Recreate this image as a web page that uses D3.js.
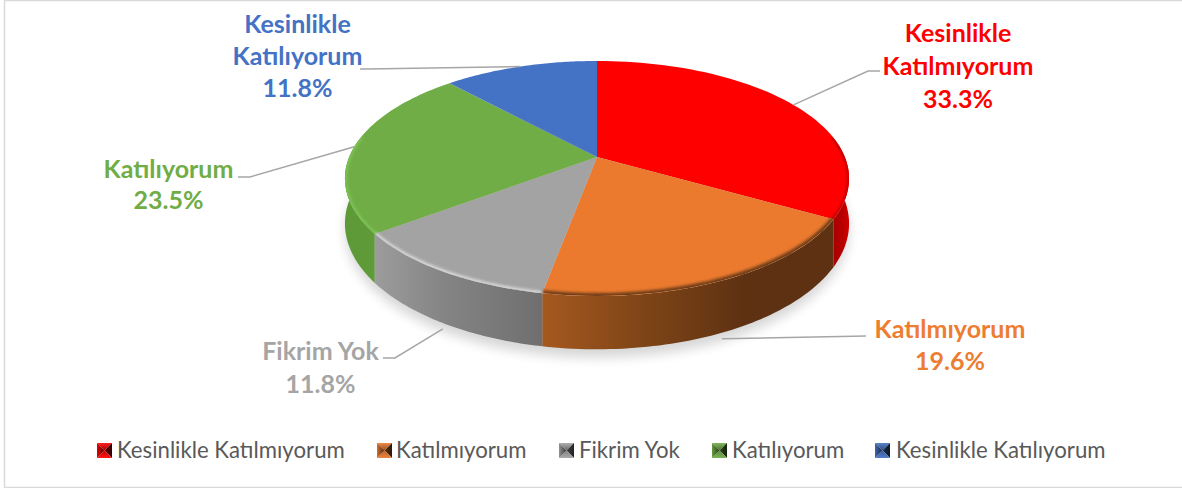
<!DOCTYPE html>
<html><head><meta charset="utf-8">
<script src="https://cdnjs.cloudflare.com/ajax/libs/d3/7.8.5/d3.min.js"></script>
<style>html,body{margin:0;padding:0;background:#fff}svg{display:block}text{font-family:Lato,"Open Sans",sans-serif}</style>
</head><body><svg id="c" width="1182" height="488"></svg>
<script>
const categories=["Kesinlikle Katılmıyorum","Katılmıyorum","Fikrim Yok","Katılıyorum","Kesinlikle Katılıyorum"];
const values=[33.3,19.6,11.8,23.5,11.8];
const colors=["#ff0000","#eb7a2f","#a3a3a3","#70ad47","#4472c4"];
const labelColors=["#ff0000","#ed7d31","#a5a5a5","#70ad47","#4472c4"];
const labelLines=[["Kesinlikle","Katılmıyorum"],["Katılmıyorum"],["Fikrim Yok"],["Katılıyorum"],["Kesinlikle","Katılıyorum"]];
const wallStops=[
 [["#a80000",0],["#b40000",.5],["#d20000",1]],
 [["#a5591f",0],["#7e4417",.35],["#5e3112",.7],["#5e3112",1]],
 [["#9c9c9c",0],["#858585",.4],["#6f6f6f",1]],
 [["#5d9a37",0],["#5f9c39",1]],
 [["#3a62a8",0],["#3a62a8",1]]];

const svg=d3.select("#c");
const defs=svg.append("defs");
const cx=597,cy=157,X=247.8,Y=113.6,K=.183,D=43.5;
const proj=(a,z=0)=>{const u=Math.sin(a),v=-Math.cos(a),w=1-K*v;return [cx+X*u/w,cy+(Y*v+z)/w];};
const pie=d3.pie().sort(null).value(d=>d)(values);
const line=d3.line();
const sample=(a0,a1,z)=>d3.range(0,61).map(i=>proj(a0+(a1-a0)*i/60,z));

// frame
svg.append("rect").attr("x",4.5).attr("y",.5).attr("width",1200).attr("height",487).attr("fill","#fff").attr("stroke","#d9d9d9").attr("stroke-width",1.5);

defs.append("filter").attr("id","sh").attr("x","-20%").attr("y","-30%").attr("width","140%").attr("height","160%").append("feGaussianBlur").attr("stdDeviation",6);
defs.append("filter").attr("id","bv").attr("x","-10%").attr("y","-30%").attr("width","120%").attr("height","160%").append("feGaussianBlur").attr("stdDeviation",1.6);

// shadow
svg.append("path").attr("d",line(sample(0,2*Math.PI,D+7))+"Z").attr("fill","#000").attr("opacity",.16).attr("filter","url(#sh)");

// walls
const wallMin=79.5*Math.PI/180,wallMax=280.5*Math.PI/180;
const wallOrder=[0,3,1,2];
wallOrder.forEach(i=>{
  const a0=Math.max(pie[i].startAngle,wallMin),a1=Math.min(pie[i].endAngle,wallMax);
  if(a1<=a0)return;
  const top=sample(a0,a1,0),bot=sample(a0,a1,D);
  const xs=top.map(p=>p[0]);
  const g=defs.append("linearGradient").attr("id","w"+i).attr("gradientUnits","userSpaceOnUse")
    .attr("x1",d3.min(xs)).attr("x2",d3.max(xs)).attr("y1",0).attr("y2",0);
  wallStops[i].forEach(s=>g.append("stop").attr("offset",s[1]).attr("stop-color",s[0]));
  svg.append("path").attr("d",line(top.concat(bot.reverse()))+"Z").attr("fill",`url(#w${i})`);
});

// top faces
pie.forEach((s,i)=>{
  svg.append("path").attr("d",line([[cx,cy]].concat(sample(s.startAngle,s.endAngle,0)))+"Z").attr("fill",colors[i]);
});

// rim bevel
defs.append("clipPath").attr("id","tp").append("path").attr("d",line(sample(0,2*Math.PI,0))+"Z");
const bevel=["#a80000","#6b3a14","#dedede","#7fc653","#4472c4"];
const bevelWidth=[3,6,4,4,0];
const bg=svg.append("g").attr("clip-path","url(#tp)");
pie.forEach((s,i)=>{
  const a0=Math.max(s.startAngle,wallMin),a1=Math.min(s.endAngle,wallMax);
  if(a1<=a0||!bevelWidth[i])return;
  bg.append("path").attr("d",line(sample(a0,a1,0))).attr("fill","none").attr("stroke",bevel[i]).attr("stroke-width",bevelWidth[i]).attr("filter","url(#bv)");
});

// leader lines: start on the slice's mid-angle, then elbow
const elbows=[[[868,71],[880,71]],[[866,336],[866,336]],[[395,358],[383,358]],[[250,177],[238,177]],[[367,69],[360,69]]];
pie.forEach((s,i)=>{
  const m=(s.startAngle+s.endAngle)/2;
  const front=Math.cos(m)<-.3;
  const st=proj(m,front?D+5:0);
  svg.append("polyline").attr("points",[st].concat(elbows[i]).map(p=>p.join(",")).join(" "))
    .attr("fill","none").attr("stroke","#a6a6a6").attr("stroke-width",1.5);
});

// labels
const labelCenter=[958,950,320.5,168.5,297.5];
const labelFirst=[42,338,360,178,33];
const lh=[33,32,33,31,32];
pie.forEach((s,i)=>{
  const lines=labelLines[i].concat([values[i].toFixed(1)+"%"]);
  lines.forEach((t,j)=>{
    svg.append("text").attr("x",labelCenter[i]).attr("y",labelFirst[i]+j*lh[i]).attr("text-anchor","middle")
      .attr("font-size",25).attr("font-weight",700).attr("fill",labelColors[i]).text(t);
  });
});

// legend
const keyX=[97,377,559,712,875],textX=[117,396,579,732,896];
const mix=(c,t,f)=>d3.interpolateRgb(c,t)(f);
categories.forEach((c,i)=>{
  const x=keyX[i],y=443,z=15,m=[x+z/2,y+z/2];
  const center=mix(colors[i],"#000",.65);
  const faces=[
    [[[x,y],[x+z,y],m],mix(colors[i],"#fff",.12),0,1,mix(colors[i],"#000",.35)],
    [[[x+z,y],[x+z,y+z],m],mix(colors[i],"#000",.8),1,0,mix(colors[i],"#000",.6)],
    [[[x+z,y+z],[x,y+z],m],mix(colors[i],"#fff",.08),3,2,mix(colors[i],"#000",.2)],
    [[[x,y+z],[x,y],m],mix(colors[i],"#000",.1),0,0,center]];
  faces.forEach((f,j)=>{
    const id=`k${i}_${j}`;
    const g=defs.append("linearGradient").attr("id",id).attr("gradientUnits","userSpaceOnUse");
    if(j===0)g.attr("x1",m[0]).attr("x2",m[0]).attr("y1",y).attr("y2",m[1]);
    if(j===1)g.attr("x1",x+z).attr("x2",m[0]).attr("y1",m[1]).attr("y2",m[1]);
    if(j===2)g.attr("x1",m[0]).attr("x2",m[0]).attr("y1",y+z).attr("y2",m[1]);
    if(j===3)g.attr("x1",x).attr("x2",m[0]).attr("y1",m[1]).attr("y2",m[1]);
    g.append("stop").attr("offset",0).attr("stop-color",f[1]);
    g.append("stop").attr("offset",1).attr("stop-color",j===3?center:f[4]);
    svg.append("polygon").attr("points",f[0].map(p=>p.join(",")).join(" ")).attr("fill",`url(#${id})`);
  });
  svg.append("text").attr("x",textX[i]).attr("y",457.5).attr("font-size",22.2).attr("fill","#595959").text(c);
});
</script></body></html>
